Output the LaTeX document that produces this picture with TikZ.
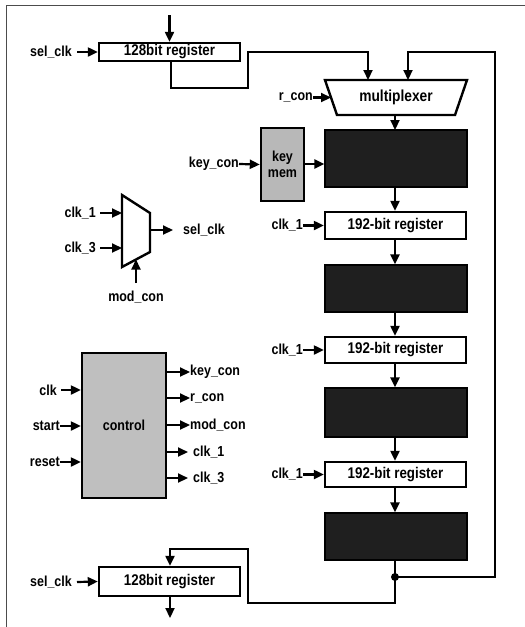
\documentclass[tikz,border=0pt]{standalone}
\usepackage{fontspec}
\setmainfont{Liberation Sans}[FakeStretch=0.86]
\usetikzlibrary{arrows.meta}
\begin{document}
\begin{tikzpicture}[x=1pt,y=-1pt,
  frame/.style={draw=black!70,line width=1pt},
  wire/.style={line width=2.2pt,-{Triangle[length=10pt,width=9pt]}},
  line/.style={line width=2.2pt},
  regbox/.style={draw,line width=2.4pt,fill=white,inner sep=0pt,font=\fontsize{15.5}{17}\selectfont\bfseries},
  darkbox/.style={draw,line width=1.2pt,fill=black!88,inner sep=0pt,minimum width=142pt,minimum height=47pt},
  greybox/.style={draw,line width=2.4pt,fill=black!28,inner sep=0pt,font=\fontsize{14.5}{15}\selectfont\bfseries},
  lbl/.style={inner sep=0pt,font=\fontsize{14.5}{16}\selectfont\bfseries}]
\useasboundingbox (0,0) rectangle (525,627);
\draw[frame] (6.5,627) -- (6.5,5) -- (525,5);

% top 128 bit register
\node[regbox,minimum width=141pt,minimum height=18pt] (r0) at (169.5,52) {128bit register};
\coordinate (r0in) at (169.5,15);
\draw[wire] (r0in) -- (r0.north);
\node[lbl,anchor=east] (selclkA) at (72,52) {sel\_clk};
\draw[wire] (selclkA.east) ++(5,0) -- (r0.west);

% multiplexer
\coordinate (m1) at (325,80); \coordinate (m2) at (467,80);
\coordinate (m3) at (455,115); \coordinate (m4) at (337,115);
\draw[line width=2.4pt,fill=white] (m1) -- (m2) -- (m3) -- (m4) -- cycle;
\node[lbl,font=\fontsize{16}{17}\selectfont\bfseries] (mux) at (396,97.5) {multiplexer};
\coordinate (muxinA) at (368,80);
\coordinate (muxinB) at (408,80);
\coordinate (muxleft) at (331,97.5);
\coordinate (muxout) at (395,115);
\draw[wire] (r0.south) ++(1.5,0) -- (171,88) -- (248,88) -- (248,52) -- (368,52) -- (muxinA);
\node[lbl,anchor=east] (rcon) at (313,97.5) {r\_con};
\draw[wire] (rcon.east) -- (muxleft);

% key mem
\node[greybox,minimum width=43pt,minimum height=73pt,align=center] (km) at (282.5,164.5) {key\\[1pt]mem};
\node[lbl,anchor=east] (keycon) at (239,164) {key\_con};
\draw[wire] (keycon.east) -- (km.west);

% datapath column
\node[darkbox,minimum height=57pt] (d1) at (396,158.5) {};
\node[regbox,minimum width=141pt,minimum height=27pt] (g1) at (395.5,225.5) {192-bit register};
\node[darkbox] (d2) at (396,288.5) {};
\node[regbox,minimum width=141pt,minimum height=26pt] (g2) at (395.5,350) {192-bit register};
\node[darkbox,minimum height=49pt] (d3) at (396,412.5) {};
\node[regbox,minimum width=141pt,minimum height=25pt] (g3) at (395.5,474.5) {192-bit register};
\node[darkbox] (d4) at (396,536.5) {};

\draw[wire] (muxout) -- (395,130);
\draw[wire] (km.east |- 0,164) -- (d1.west |- 0,164);
\draw[wire] (395,187) -- (g1.north -| 395,0);
\draw[wire] (395,239) -- (d2.north -| 395,0);
\draw[wire] (395,312) -- (g2.north -| 395,0);
\draw[wire] (395,363) -- (d3.north -| 395,0);
\draw[wire] (395,437) -- (g3.north -| 395,0);
\draw[wire] (395,487) -- (d4.north -| 395,0);

\node[lbl,anchor=east] (c1a) at (303,225.5) {clk\_1};
\draw[wire] (c1a.east) -- (g1.west);
\node[lbl,anchor=east] (c1b) at (303,350) {clk\_1};
\draw[wire] (c1b.east) -- (g2.west);
\node[lbl,anchor=east] (c1c) at (303,474.5) {clk\_1};
\draw[wire] (c1c.east) -- (g3.west);

% feedback and bottom register
\coordinate (junc) at (395,577);
\node[regbox,minimum width=141pt,minimum height=29pt] (r1) at (169.5,581.5) {128bit register};
\draw[line] (395,560) -- (junc);
\draw[wire] (junc) -- (495,577) -- (495,52) -- (408,52) -- (muxinB);
\draw[wire] (junc) -- (395,603) -- (248,603) -- (248,549) -- (170,549) -- (r1.north -| 170,0);
\fill (junc) circle (4pt);
\coordinate (r1out) at (170,618);
\draw[wire] (r1.south -| 170,0) -- (r1out);
\node[lbl,anchor=east] (selclkB) at (72,582) {sel\_clk};
\draw[wire] (selclkB.east) ++(5,0) -- (r1.west);

% small mux
\coordinate (s1) at (122,195); \coordinate (s2) at (150,213);
\coordinate (s3) at (150,252); \coordinate (s4) at (122,267);
\draw[line width=2.4pt,fill=white] (s1) -- (s2) -- (s3) -- (s4) -- cycle;
\node[lbl,anchor=east] (sc1) at (96,213) {clk\_1};
\draw[wire] (sc1.east) ++(4,0) -- (122,213);
\node[lbl,anchor=east] (sc3) at (96,248) {clk\_3};
\draw[wire] (sc3.east) ++(4,0) -- (122,248);
\node[lbl,anchor=west] (selclkC) at (183,230) {sel\_clk};
\draw[wire] (150,230) -- (173,230);
\node[lbl,anchor=north] (modc) at (136,291) {mod\_con};
\draw[wire] (136,283) -- (136,259.5);

% control
\node[greybox,fill=black!25,minimum width=84pt,minimum height=145pt] (ctl) at (124,425.5) {control};
\node[lbl,anchor=east] (iclk) at (57,390) {clk};
\draw[wire] (iclk.east) ++(4,0) -- (ctl.west |- 0,390);
\node[lbl,anchor=east] (istart) at (60,426) {start};
\draw[wire] (istart.east) -- (ctl.west |- 0,426);
\node[lbl,anchor=east] (ireset) at (60,462) {reset};
\draw[wire] (ireset.east) -- (ctl.west |- 0,462);
\node[lbl,anchor=west] (okey) at (190,372) {key\_con};
\draw[wire] (ctl.east |- 0,372) -- (okey.west);
\node[lbl,anchor=west] (orcon) at (190,398) {r\_con};
\draw[wire] (ctl.east |- 0,398) -- (orcon.west);
\node[lbl,anchor=west] (omod) at (190,425) {mod\_con};
\draw[wire] (ctl.east |- 0,425) -- (omod.west);
\node[lbl,anchor=west] (oc1) at (193,452) {clk\_1};
\draw[wire] (ctl.east |- 0,452) -- (188,452);
\node[lbl,anchor=west] (oc3) at (193,478) {clk\_3};
\draw[wire] (ctl.east |- 0,478) -- (188,478);
\end{tikzpicture}
\end{document}
